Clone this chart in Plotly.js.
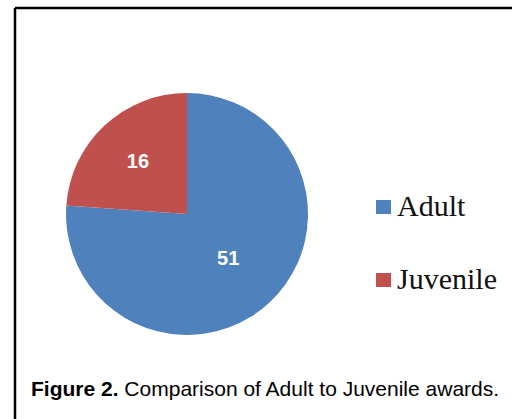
<!DOCTYPE html>
<html><head><meta charset="utf-8">
<script src="https://cdn.plot.ly/plotly-3.0.1.min.js"></script>
<style>html,body{margin:0;padding:0;background:#fff;}#chart{width:512px;height:419px;}</style>
</head><body><div id="chart"></div>
<script>
const labels = ["Adult", "Juvenile"];
const values = [51, 16];
const colors = ["#4F81BD", "#C0504D"];
const caption = "<b>Figure 2.</b> Comparison of Adult to Juvenile awards.";

const W = 512, H = 419;
const px = x => x / W, py = y => 1 - y / H;

const trace = {
  type: "pie",
  labels: labels,
  values: values,
  sort: false,
  direction: "clockwise",
  rotation: 0,
  marker: {colors: colors, line: {width: 0}},
  textinfo: "value",
  textposition: "inside",
  insidetextorientation: "horizontal",
  textfont: {family: "Liberation Sans, Arial, sans-serif", size: 20, color: "#ffffff", weight: "bold"},
  domain: {x: [px(66), px(308)], y: [py(335), py(93)]},
  showlegend: false,
  hoverinfo: "none"
};

const legendY = [205, 278];
const boxY = [207, 280];
const shapes = [
  {type: "line", xref: "paper", yref: "paper", x0: px(15), y0: py(8), x1: px(520), y1: py(8), line: {color: "#000", width: 2.5}},
  {type: "line", xref: "paper", yref: "paper", x0: px(15), y0: py(8), x1: px(15), y1: py(430), line: {color: "#000", width: 2.5}}
];
const annotations = [];
labels.forEach((lab, i) => {
  shapes.push({type: "rect", xref: "paper", yref: "paper",
    x0: px(376), x1: px(391), y0: py(boxY[i] - 7), y1: py(boxY[i] + 7),
    fillcolor: colors[i], line: {width: 0}});
  annotations.push({xref: "paper", yref: "paper", x: px(395), y: py(legendY[i]),
    xanchor: "left", yanchor: "middle", showarrow: false, text: lab,
    font: {family: "Liberation Serif, Times New Roman, serif", size: 30, color: "#111"}});
});
annotations.push({xref: "paper", yref: "paper", x: px(265), y: py(388.5), xanchor: "center", yanchor: "middle",
  showarrow: false, text: caption,
  font: {family: "Liberation Sans, Arial, sans-serif", size: 21, color: "#000"}});

Plotly.newPlot("chart", [trace], {
  width: W, height: H,
  margin: {l: 0, r: 0, t: 0, b: 0},
  paper_bgcolor: "#ffffff",
  showlegend: false,
  shapes: shapes,
  annotations: annotations
}, {displayModeBar: false, staticPlot: true});
</script></body></html>
